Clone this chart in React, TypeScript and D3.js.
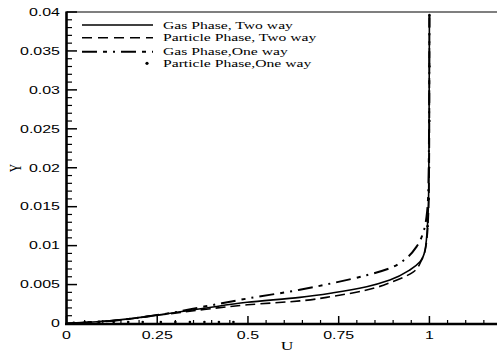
import React from "react";
import * as d3 from "d3";

const W = 497;
const H = 353;

const xTicks = [0, 0.25, 0.5, 0.75, 1];
const xTickLabels = ["0", "0.25", "0.5", "0.75", "1"];
const yTicks = [0, 0.005, 0.01, 0.015, 0.02, 0.025, 0.03, 0.035, 0.04];
const yTickLabels = ["0", "0.005", "0.01", "0.015", "0.02", "0.025", "0.03", "0.035", "0.04"];

const gasTwoU = [0, 0.085, 0.25, 0.379, 0.498, 0.643, 0.735, 0.827, 0.891, 0.946, 0.974, 0.988, 0.995, 0.998, 0.999, 1.0];
const gasTwoY = [0, 0.00023, 0.00109, 0.00195, 0.00272, 0.00336, 0.00395, 0.00472, 0.00558, 0.00687, 0.00793, 0.00944, 0.0129, 0.0171, 0.025, 0.0396];

const partTwoU = [0, 0.085, 0.25, 0.379, 0.498, 0.643, 0.735, 0.827, 0.9, 0.955, 0.978, 0.99, 0.997, 0.999, 1.0, 1.0];
const partTwoY = [0, 0.00023, 0.00105, 0.0018, 0.0024, 0.0029, 0.0035, 0.0043, 0.0054, 0.0066, 0.0081, 0.0098, 0.0137, 0.018, 0.026, 0.0396];

const gasOneU = [0, 0.085, 0.25, 0.379, 0.498, 0.643, 0.735, 0.827, 0.891, 0.937, 0.965, 0.985, 0.992, 0.997, 0.999, 1.0];
const gasOneY = [0, 0.00023, 0.00109, 0.00217, 0.0032, 0.00433, 0.0052, 0.0062, 0.0071, 0.0084, 0.0099, 0.012, 0.0137, 0.0171, 0.025, 0.0396];

const partOneU = [0.02, 0.05, 0.09, 0.13, 0.17, 0.21, 0.26, 0.3, 0.34, 0.38, 0.42, 0.46, 0.995, 0.998, 0.999, 1.0, 1.0, 1.0];
const partOneY = [0.0001, 0.00015, 0.0002, 0.0002, 0.0002, 0.0002, 0.0002, 0.0002, 0.0002, 0.0002, 0.0002, 0.0002, 0.0125, 0.016, 0.02, 0.026, 0.033, 0.0396];

const legendLabels = ["Gas Phase, Two way", "Particle Phase, Two way", "Gas Phase,One way", "Particle Phase,One way"];

const x = d3.scaleLinear().domain([0, 1.2]).range([66.5, 502]);
const y = d3.scaleLinear().domain([0, 0.04]).range([323.5, 12]);

const line = d3
  .line<[number, number]>()
  .x((d) => x(d[0]))
  .y((d) => y(d[1]))
  .curve(d3.curveMonotoneY);

const zip = (a: number[], b: number[]) => a.map((v, i) => [v, b[i]] as [number, number]);

const SX = 1.52;
const sans = "'Liberation Sans', Arial, sans-serif";
const serif = "'Liberation Serif', 'Times New Roman', serif";

export default function App() {
  const xMinor = d3.range(0, 1.2001, 0.05).filter((v) => !xTicks.some((t) => Math.abs(t - v) < 1e-9));
  const yMinor = d3.range(0, 0.04001, 0.001).filter((v) => !yTicks.some((t) => Math.abs(t - v) < 1e-9));
  const dashDot = "15,6,4,6,2,6";
  const styles = [
    { dash: undefined, w: 1.6 },
    { dash: "10,6", w: 1.6 },
    { dash: dashDot, w: 2 },
  ];
  const lx0 = 82;
  const lx1 = 153;
  const ly = [25, 37.7, 51.7, 63.3];
  return (
    <svg width={W} height={H} style={{ position: "absolute", left: 0, top: 0, background: "#fff" }}>
      <defs>
        <clipPath id="plot">
          <rect x={66} y={0} width={W - 66} height={324} />
        </clipPath>
      </defs>
      <g clipPath="url(#plot)" fill="none" stroke="#000">
        <path d={line(zip(gasTwoU, gasTwoY)) || ""} strokeWidth={1.6} />
        <path d={line(zip(partTwoU, partTwoY)) || ""} strokeWidth={1.6} strokeDasharray="10,5" />
        <path d={line(zip(gasOneU, gasOneY)) || ""} strokeWidth={2} strokeDasharray={dashDot} />
      </g>
      <g fill="#000">
        {partOneU.map((u, i) => (
          <circle key={i} cx={x(u)} cy={y(partOneY[i])} r={1.3} />
        ))}
      </g>
      {/* top frame line */}
      <line x1={66} x2={W} y1={12} y2={12} stroke="#000" strokeWidth={1.2} />
      {/* axes */}
      <line x1={66.5} x2={66.5} y1={11.5} y2={324.5} stroke="#000" strokeWidth={2.6} />
      <line x1={65} x2={W} y1={324} y2={324} stroke="#000" strokeWidth={2.6} />
      {/* y ticks */}
      {yTicks.map((t) => (
        <line key={"ym" + t} x1={67} x2={77} y1={y(t)} y2={y(t)} stroke="#000" strokeWidth={1.5} />
      ))}
      {yMinor.map((t) => (
        <line key={"yn" + t} x1={67} x2={72} y1={y(t)} y2={y(t)} stroke="#000" strokeWidth={1.2} />
      ))}
      {xTicks.map((t) => (
        <line key={"xm" + t} x1={x(t)} x2={x(t)} y1={324} y2={316} stroke="#000" strokeWidth={1.5} />
      ))}
      {xMinor.map((t) => (
        <line key={"xn" + t} x1={x(t)} x2={x(t)} y1={324} y2={320} stroke="#000" strokeWidth={1.2} />
      ))}
      {/* tick labels */}
      {yTicks.map((t, i) => (
        <text
          key={"yl" + t}
          transform={`translate(60,${y(t) + 3.8}) scale(${SX},1)`}
          textAnchor="end"
          fontFamily={sans}
          fontSize={10.5}
        >
          {yTickLabels[i]}
        </text>
      ))}
      {xTicks.map((t, i) => (
        <text
          key={"xl" + t}
          transform={`translate(${x(t)},338.5) scale(${SX},1)`}
          textAnchor="middle"
          fontFamily={sans}
          fontSize={10.5}
        >
          {xTickLabels[i]}
        </text>
      ))}
      {/* axis titles */}
      <text transform={`translate(287,350) scale(${SX},1)`} textAnchor="middle" fontFamily={serif} fontSize={11.5}>
        U
      </text>
      <text transform={`translate(21,168) rotate(-90) scale(1,${SX})`} textAnchor="middle" fontFamily={serif} fontSize={11.5}>
        Y
      </text>
      {/* legend */}
      {styles.map((s, i) => (
        <line key={"lg" + i} x1={lx0} x2={lx1} y1={ly[i]} y2={ly[i]} stroke="#000" strokeWidth={s.w} strokeDasharray={s.dash} />
      ))}
      <circle cx={147} cy={ly[3]} r={1.6} fill="#000" />
      {legendLabels.map((l, i) => (
        <text
          key={"lt" + i}
          transform={`translate(163,${ly[i] + 3.5}) scale(${SX},1)`}
          fontFamily={serif}
          fontSize={10.3}
        >
          {l}
        </text>
      ))}
    </svg>
  );
}
